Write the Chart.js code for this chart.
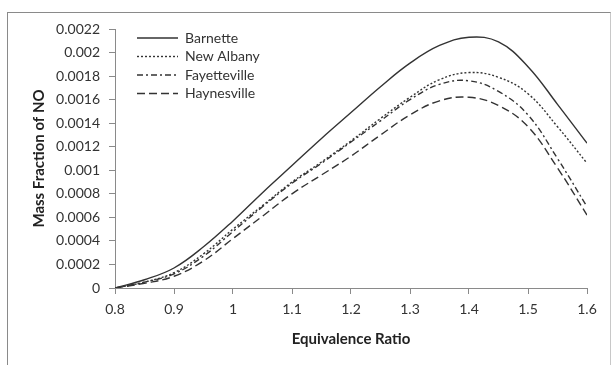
<!DOCTYPE html>
<html>
<head>
<meta charset="UTF-8">
<title>Mass Fraction of NO</title>
<script src="https://cdn.jsdelivr.net/npm/chart.js@4.4.1/dist/chart.umd.min.js"></script>
<style>
  html, body { margin: 0; padding: 0; background: #fff; overflow: hidden; }
  #wrap { position: relative; width: 614px; height: 365px; }
  #frame { position: absolute; left: 7px; top: 12px; width: 602px; height: 400px;
           border-top: 1px solid #8a8a8a; border-left: 1px solid #8a8a8a; border-right: 1px solid #c8c8c8; }
  canvas { position: absolute; left: 0; top: 0; }
</style>
</head>
<body>
<div id="wrap">
  <div id="frame"></div>
  <canvas id="myChart" width="614" height="365"></canvas>
</div>

<script>
  // equivalence ratio
  let ratio = [0.8, 0.85, 0.9, 0.95, 1.0, 1.05, 1.1, 1.15, 1.2, 1.25, 1.3, 1.35, 1.4, 1.45, 1.5, 1.55, 1.6];

  // mass fraction of NO for each shale gas
  let barnette    = [0, 0.00007, 0.00017, 0.00035, 0.00057, 0.00081, 0.00104, 0.00127, 0.00149, 0.00171, 0.00191, 0.00206, 0.00213, 0.00209, 0.00188, 0.00156, 0.00123];
  let newAlbany   = [0, 0.00005, 0.00013, 0.00029, 0.00050, 0.00070, 0.00090, 0.00107, 0.00125, 0.00144, 0.00162, 0.00177, 0.00183, 0.00179, 0.00165, 0.00137, 0.00106];
  let fayetteville = [0, 0.00005, 0.00012, 0.00027, 0.00048, 0.00069, 0.00089, 0.00106, 0.00124, 0.00142, 0.00160, 0.00173, 0.00176, 0.00167, 0.00147, 0.00110, 0.00069];
  let haynesville = [0, 0.00004, 0.00010, 0.00023, 0.00042, 0.00061, 0.00080, 0.00096, 0.00112, 0.00130, 0.00147, 0.00159, 0.00162, 0.00155, 0.00137, 0.00102, 0.00062];

  let names = ['Barnette', 'New Albany', 'Fayetteville', 'Haynesville'];
  let series = [barnette, newAlbany, fayetteville, haynesville];
  let dashes = [[], [2, 2], [6, 3, 2, 3], [8, 4]];

  function toPoints(arr) {
    return arr.map(function(v, i) { return {x: ratio[i], y: v}; });
  }

  // legend drawn inside the plot, top left
  const innerLegend = {
    id: 'innerLegend',
    afterDraw(chart) {
      const ctx = chart.ctx;
      const area = chart.chartArea;
      ctx.save();
      chart.data.datasets.forEach(function(ds, i) {
        const y = area.top + 9 + i * 18.5;
        ctx.beginPath();
        ctx.setLineDash(ds.borderDash);
        ctx.lineWidth = ds.borderWidth;
        ctx.strokeStyle = ds.borderColor;
        ctx.moveTo(area.left + 22, y);
        ctx.lineTo(area.left + 63, y);
        ctx.stroke();
        ctx.setLineDash([]);
        ctx.fillStyle = '#333';
        ctx.font = '14px Lato';
        ctx.textBaseline = 'middle';
        ctx.fillText(ds.label, area.left + 70, y);
      });
      ctx.restore();
    }
  };

  new Chart('myChart', {
    type: 'line',
    data: {
      datasets: series.map(function(s, i) {
        return {
          label: names[i],
          data: toPoints(s),
          borderColor: '#333',
          borderWidth: 1.4,
          borderDash: dashes[i],
          pointRadius: 0,
          fill: false,
          tension: 0.4
        };
      })
    },
    options: {
      responsive: false,
      animation: false,
      layout: { padding: { left: 0, right: 27, top: 29, bottom: 0 } },
      plugins: { legend: { display: false }, tooltip: { enabled: false } },
      scales: {
        x: {
          type: 'linear',
          min: 0.8, max: 1.6,
          afterFit: function(scale) { scale.height = 77; },
          grid: { drawOnChartArea: false, tickLength: 6, color: '#8a8a8a' },
          border: { color: '#8a8a8a' },
          ticks: {
            stepSize: 0.1, padding: 7, color: '#333',
            font: { family: 'Lato', size: 14 },
            callback: function(v) { return parseFloat(v.toFixed(1)).toString(); }
          },
          title: {
            display: true, text: 'Equivalence Ratio', color: '#222',
            font: { family: 'Lato', size: 15, weight: 'bold' },
            padding: { top: 0, bottom: 17 }
          }
        },
        y: {
          min: 0, max: 0.0022,
          afterFit: function(scale) { scale.width = 115; },
          grid: { drawOnChartArea: false, tickLength: 6, color: '#8a8a8a' },
          border: { color: '#8a8a8a' },
          ticks: {
            stepSize: 0.0002, padding: 9, color: '#333',
            font: { family: 'Lato', size: 14 },
            callback: function(v) { return parseFloat(v.toFixed(4)).toString(); }
          },
          title: {
            display: true, text: 'Mass Fraction of NO', color: '#222',
            font: { family: 'Lato', size: 15, weight: 'bold' },
            padding: { top: 30, bottom: 0 }
          }
        }
      }
    },
    plugins: [innerLegend]
  });
</script>
</body>
</html>
